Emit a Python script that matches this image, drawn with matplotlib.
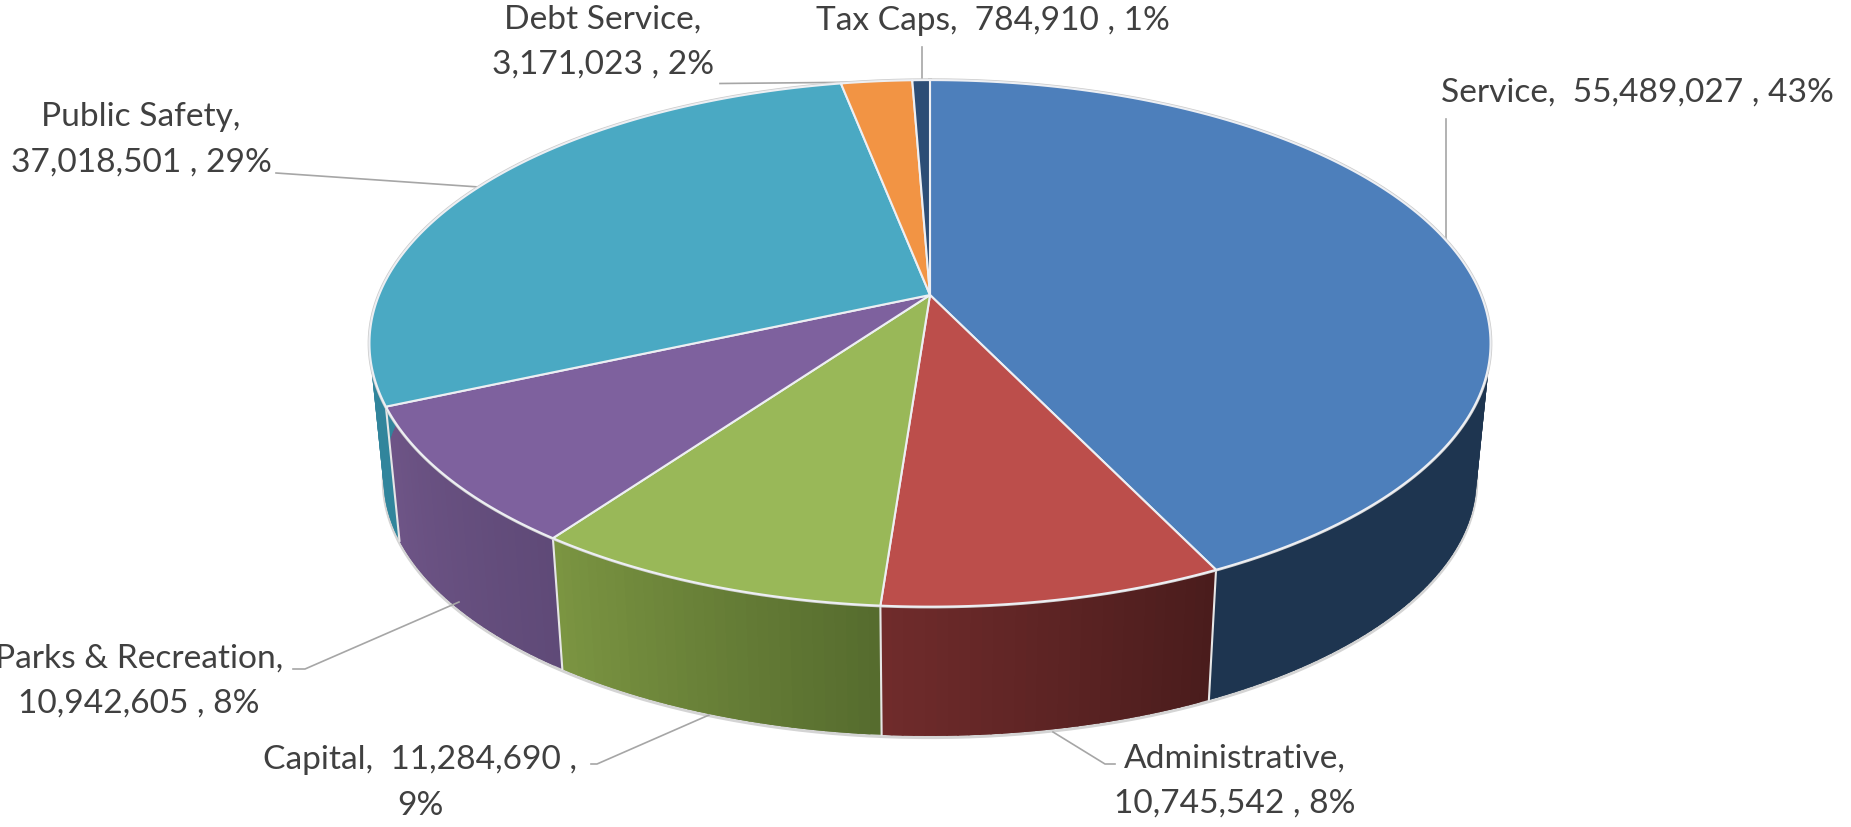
import numpy as np
import matplotlib
matplotlib.use('Agg')
import matplotlib.pyplot as plt

names = ['Service', 'Administrative', 'Capital', 'Parks & Recreation', 'Public Safety', 'Debt Service', 'Tax Caps']
values = [55489027, 10745542, 11284690, 10942605, 37018501, 3171023, 784910]
percents = [43, 8, 9, 8, 29, 2, 1]

top_colors = ['#4D7FBB', '#BC4E4B', '#99B858', '#7E619E', '#4AA9C3', '#F29444', '#2C4D75']
wall_start = ['#1E3550', '#712C2C', '#7C9642', '#6F5587', '#31859C', '#A9672F', '#1E3550']
wall_end = ['#1E3550', '#4A1C1C', '#566C2E', '#5F4A78', '#31859C', '#A9672F', '#1E3550']

# how each label wraps, {} are name, value, percent
label_formats = ['{},  {} , {}%', '{},\n{} , {}%', '{},  {} ,\n{}%', '{},\n{} , {}%', '{},\n{} , {}%', '{},\n{} , {}%', '{},  {} , {}%']
label_pos = [(1637, 93), (1235, 781), (420, 783), (139, 681), (141, 140), (603, 42), (993, 21)]
leaders = [
    [(1446, 119), (1446, 240)],
    [(1115, 764), (1105, 764), (1053, 732)],
    [(591, 764), (597, 764), (709, 715)],
    [(293, 669), (305, 669), (459, 602)],
    [(276, 173), (479, 187)],
    [(720, 83.5), (880, 82)],
    [(922, 47), (922, 80)],
]

CX, CY = 930, 295
A, B, K = 551, 254.4, 0.1837
DROP, SHRINK = 137, 0.975


def project(theta, r=1.0, lower=False):
    # perspective view of the pie disc, theta clockwise from 12 o'clock
    u, v = r * np.sin(theta), r * np.cos(theta)
    w = 1 + K * v
    x, y = A * u / w, -B * v / w
    if lower:
        return CX + SHRINK * x, CY + DROP + SHRINK * y
    return CX + x, CY + y


def hex_mix(c1, c2, t):
    a = np.array(matplotlib.colors.to_rgb(c1))
    b = np.array(matplotlib.colors.to_rgb(c2))
    return a + (b - a) * t


fig = plt.figure(figsize=(18.51, 8.27), dpi=100)
ax = fig.add_axes([0, 0, 1, 1])
ax.set_xlim(0, 1851)
ax.set_ylim(827, 0)
ax.axis('off')

edges = 2 * np.pi * np.concatenate([[0], np.cumsum(values)]) / np.sum(values)

# outer rim of the side wall
th = np.linspace(0, 2 * np.pi, 721)
lx, ly = project(th, lower=True)
ax.plot(lx, ly + 1.5, color='#D4D4D4', lw=2.5, zorder=1)

# side walls as thin strips for the shading, each one runs under the next so no seams show
for i in range(len(values)):
    steps = max(int((edges[i + 1] - edges[i]) * 60), 2)
    ts = np.linspace(edges[i], edges[i + 1], steps + 1)
    for j in range(steps):
        sub = np.linspace(ts[j], min(ts[j + 1] + 0.02, edges[i + 1]), 5)
        ux, uy = project(sub)
        dx, dy = project(sub[::-1], lower=True)
        col = hex_mix(wall_end[i], wall_start[i], j / steps)
        ax.fill(np.r_[ux, dx], np.r_[uy, dy], color=col, lw=0, zorder=2)
    # seams between the walls
    ux, uy = project(edges[i])
    dx, dy = project(edges[i], lower=True)
    if np.cos(edges[i]) < 0:
        ax.plot([ux, dx], [uy, dy], color='#E6E6E6', lw=1.5, zorder=3)

# top rim, gray halo
tx, ty = project(th)
ax.plot(tx, ty, color='#CCCCCC', lw=2.6, zorder=4)

# top faces
for i in range(len(values)):
    arc = np.linspace(edges[i], edges[i + 1], 200)
    ax_, ay_ = project(arc)
    ax.fill(np.r_[CX, ax_], np.r_[CY, ay_], facecolor=top_colors[i], edgecolor='#EDEFF3', lw=1.5,
            joinstyle='round', zorder=5)

for pts in leaders:
    xs, ys = zip(*pts)
    ax.plot(xs, ys, color='#A6A6A6', lw=1.2, zorder=3)

for i in range(len(values)):
    label = label_formats[i].format(names[i], format(values[i], ','), percents[i])
    ax.text(label_pos[i][0], label_pos[i][1], label, ha='center', va='center', family='Lato',
            fontsize=24.1, color='#404040', linespacing=1.65)

fig.savefig('out.png', dpi=100, facecolor='white')
